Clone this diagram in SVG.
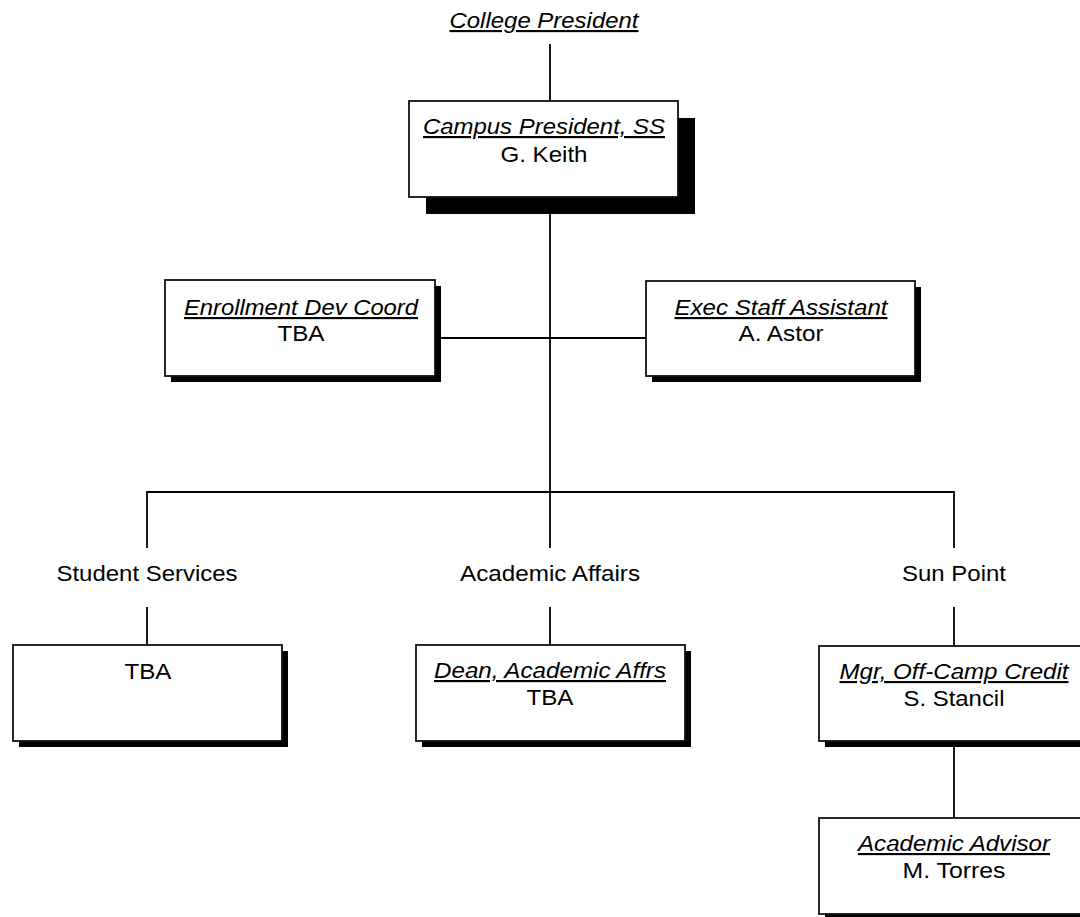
<svg xmlns="http://www.w3.org/2000/svg" width="1080" height="917" viewBox="0 0 1080 917">
<style>
.box{fill:#fff;stroke:#111;stroke-width:1.8}
.sh{fill:#000}
.ln{stroke:#000;stroke-width:1.8;fill:none}
text{font-family:"Liberation Sans",Arial,sans-serif;font-size:21.5px;fill:#000;text-anchor:middle}
.t{font-style:italic;text-decoration:underline}
</style>
<rect width="1080" height="917" fill="#fff"/>
<g id="connectors">
<line class="ln" x1="550" y1="44" x2="550" y2="101"/>
<line class="ln" x1="550" y1="197" x2="550" y2="492"/>
<line class="ln" x1="435" y1="338" x2="646" y2="338"/>
<polyline class="ln" points="147,548 147,492 954,492 954,548"/>
<line class="ln" x1="550" y1="492" x2="550" y2="548"/>
<line class="ln" x1="147" y1="607" x2="147" y2="645"/>
<line class="ln" x1="550" y1="607" x2="550" y2="645"/>
<line class="ln" x1="954" y1="607" x2="954" y2="646"/>
<line class="ln" x1="954" y1="741" x2="954" y2="818"/>
</g>
<g id="college-president">
<text class="t" x="544" y="28" textLength="189" lengthAdjust="spacingAndGlyphs">College President</text>
</g>
<g id="campus-president">
<rect class="sh" x="426" y="118" width="269" height="96"/>
<rect class="box" x="409" y="101" width="269" height="96"/>
<text class="t" x="544" y="134" textLength="242" lengthAdjust="spacingAndGlyphs">Campus President, SS</text>
<text x="544" y="162" textLength="87" lengthAdjust="spacingAndGlyphs">G. Keith</text>
</g>
<g id="enrollment">
<rect class="sh" x="171" y="286" width="270" height="96"/>
<rect class="box" x="165" y="280" width="270" height="96"/>
<text class="t" x="301" y="315" textLength="234" lengthAdjust="spacingAndGlyphs">Enrollment Dev Coord</text>
<text x="301" y="341" textLength="47" lengthAdjust="spacingAndGlyphs">TBA</text>
</g>
<g id="exec-staff">
<rect class="sh" x="652" y="287" width="269" height="95"/>
<rect class="box" x="646" y="281" width="269" height="95"/>
<text class="t" x="781" y="315" textLength="213" lengthAdjust="spacingAndGlyphs">Exec Staff Assistant</text>
<text x="781" y="341" textLength="85" lengthAdjust="spacingAndGlyphs">A. Astor</text>
</g>
<g id="student-services">
<text x="147" y="581" textLength="181" lengthAdjust="spacingAndGlyphs">Student Services</text>
</g>
<g id="academic-affairs">
<text x="550" y="581" textLength="180" lengthAdjust="spacingAndGlyphs">Academic Affairs</text>
</g>
<g id="sun-point">
<text x="954" y="581" textLength="104" lengthAdjust="spacingAndGlyphs">Sun Point</text>
</g>
<g id="ss-tba">
<rect class="sh" x="19" y="651" width="269" height="96"/>
<rect class="box" x="13" y="645" width="269" height="96"/>
<text x="148" y="679" textLength="47" lengthAdjust="spacingAndGlyphs">TBA</text>
</g>
<g id="dean">
<rect class="sh" x="422" y="651" width="269" height="96"/>
<rect class="box" x="416" y="645" width="269" height="96"/>
<text class="t" x="550" y="678" textLength="232" lengthAdjust="spacingAndGlyphs">Dean, Academic Affrs</text>
<text x="550" y="705" textLength="47" lengthAdjust="spacingAndGlyphs">TBA</text>
</g>
<g id="mgr">
<rect class="sh" x="825" y="652" width="269" height="95"/>
<rect class="box" x="819" y="646" width="269" height="95"/>
<text class="t" x="954" y="679" textLength="229" lengthAdjust="spacingAndGlyphs">Mgr, Off-Camp Credit</text>
<text x="954" y="706" textLength="101" lengthAdjust="spacingAndGlyphs">S. Stancil</text>
</g>
<g id="advisor">
<rect class="sh" x="825" y="824" width="269" height="96"/>
<rect class="box" x="819" y="818" width="269" height="96"/>
<text class="t" x="954" y="851" textLength="192" lengthAdjust="spacingAndGlyphs">Academic Advisor</text>
<text x="954" y="878" textLength="103" lengthAdjust="spacingAndGlyphs">M. Torres</text>
</g>
</svg>
